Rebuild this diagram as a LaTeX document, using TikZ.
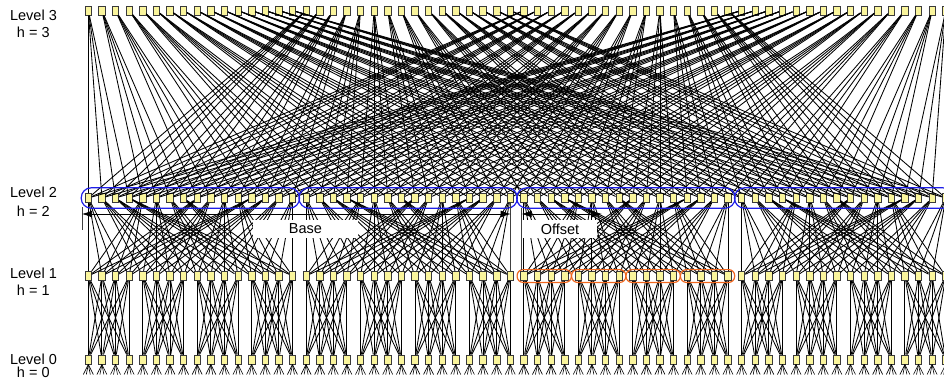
\documentclass[tikz,border=0pt]{standalone}
\usepackage{fontspec}
\setmainfont{Liberation Sans}
\usepackage{xcolor}
\definecolor{tree-node}{HTML}{FAF59C}
\definecolor{tree-border}{HTML}{3A3A3A}
\definecolor{tree-blue}{HTML}{1E1EE8}
\definecolor{tree-orange}{HTML}{F0671E}
\usepackage{tikz}
\usetikzlibrary{arrows.meta,fit}

\tikzset{
  switchbox/.style={draw=tree-border, fill=tree-node, line width=0.6pt,
    minimum width=6.4pt, minimum height=9.4pt, inner sep=0pt},
  link/.style={black, line width=0.85pt},
  levellabel/.style={anchor=base, inner sep=0pt, font=\fontsize{14.5}{16}\selectfont},
  bluegroup/.style={draw=tree-blue, line width=1.2pt, rounded corners=10pt,
    inner xsep=3.6pt, inner ysep=5.2pt},
  orangegroup/.style={draw=tree-orange, line width=1.2pt, rounded corners=6pt,
    inner xsep=3.2pt, inner ysep=1.4pt},
  dimline/.style={line width=0.7pt, {Latex[length=10pt,width=7pt]}-{Latex[length=10pt,width=7pt]}},
  tickline/.style={line width=0.7pt, black!75},
  dimlabel/.style={fill=white, inner sep=0pt, minimum height=18pt,
    font=\fontsize{14.5}{16}\selectfont},
}

\begin{document}
\begin{tikzpicture}[x=1pt,y=-1pt]

    % Frame
    \useasboundingbox (0,0) rectangle (944,383);

    % Switches, four levels of 64
    \foreach \i in {0,...,63} {
        \pgfmathsetmacro\xx{88.3+13.61*\i}
        \node[switchbox] (l3-\i) at (\xx,10.5) {};
        \node[switchbox] (l2-\i) at (\xx,198) {};
        \node[switchbox] (l1-\i) at (\xx,276) {};
        \node[switchbox] (l0-\i) at (\xx,359.5) {};
    }

    % Level 2 -- level 3 (shuffle over 64)
    \foreach \i in {0,...,63} {
        \pgfmathtruncatemacro\r{div(\i,4)}
        \foreach \c in {0,16,32,48} {
            \pgfmathtruncatemacro\j{\r+\c}
            \draw[link] (l2-\i) -- (l3-\j);
        }
    }

    % Level 1 -- level 2 (shuffle inside blocks of 16)
    \foreach \i in {0,...,63} {
        \pgfmathtruncatemacro\blk{\i-mod(\i,16)+div(mod(\i,16),4)}
        \foreach \c in {0,4,8,12} {
            \pgfmathtruncatemacro\j{\blk+\c}
            \draw[link] (l1-\i) -- (l2-\j);
        }
    }

    % Level 0 -- level 1 (groups of 4)
    \foreach \i in {0,...,63} {
        \pgfmathtruncatemacro\grp{\i-mod(\i,4)}
        \foreach \c in {0,...,3} {
            \pgfmathtruncatemacro\j{\grp+\c}
            \draw[link] (l0-\i) -- (l1-\j);
        }
    }

    % Fans below level 0
    \foreach \i in {0,...,63}
        \foreach \dx in {-5,-2,2,5}
            \draw[link, line width=0.6pt] (l0-\i.south) -- ++(\dx,10);

    % Blocks of level 2
    \foreach \g in {0,16,32,48} {
        \pgfmathtruncatemacro\e{\g+15}
        \node[bluegroup, fit=(l2-\g)(l2-\e)] (blk-\g) {};
    }

    % Groups of level 1
    \foreach \g in {32,36,40,44} {
        \pgfmathtruncatemacro\e{\g+3}
        \node[orangegroup, fit=(l1-\g)(l1-\e)] (grp-\g) {};
    }

    % Base and offset
    \coordinate (base-l) at (82,214);
    \coordinate (base-r) at (510.7,214);
    \coordinate (off-l) at (521.7,214);
    \coordinate (off-r) at (602,214);
    \draw[tickline] (base-l) ++(0,-7) -- ++(0,23);
    \draw[tickline] (base-r) ++(0,-11) -- ++(0,68);
    \draw[tickline] (off-l) ++(0,-6) -- ++(0,62);
    \draw[dimline] (base-l) -- (base-r);
    \draw[dimline] (off-l) -- (off-r);
    \node[dimlabel, minimum width=105pt] (base) at (305.5,229) {Base};
    \node[dimlabel, minimum width=74pt] (offset) at (560,229) {Offset};

    % Level names
    \node[levellabel] (lev3) at (33.5,20.5) {Level 3};
    \node[levellabel] (h3) at (33.3,37.3) {h = 3};
    \node[levellabel] (lev2) at (33.5,197.3) {Level 2};
    \node[levellabel] (h2) at (33.3,216) {h = 2};
    \node[levellabel] (lev1) at (33.5,278.5) {Level 1};
    \node[levellabel] (h1) at (33.3,295.3) {h = 1};
    \node[levellabel] (lev0) at (33.5,364) {Level 0};
    \node[levellabel] (h0) at (33.3,377.3) {h = 0};

\end{tikzpicture}
\end{document}
